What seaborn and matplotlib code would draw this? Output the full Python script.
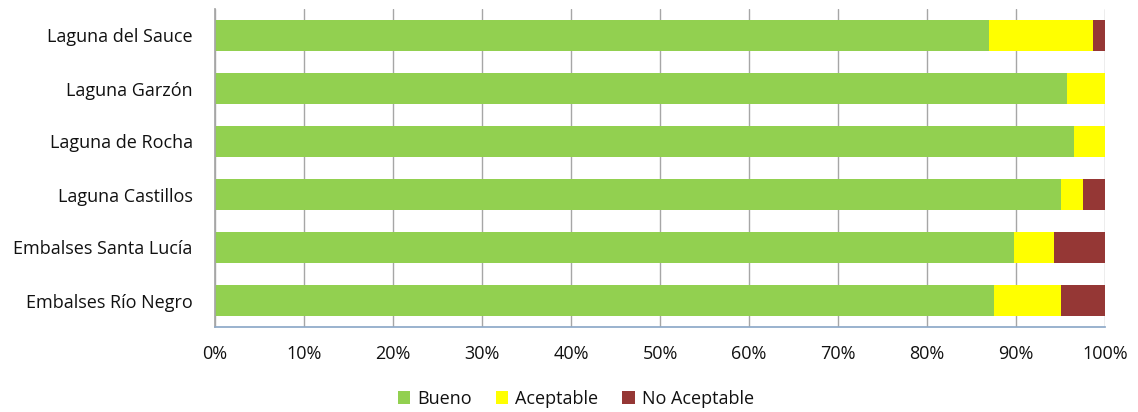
import matplotlib
matplotlib.use("Agg")
import matplotlib.pyplot as plt
import seaborn as sns
import pandas as pd
import numpy as np
from matplotlib.patches import Patch

categories = ["Laguna del Sauce", "Laguna Garzón", "Laguna de Rocha",
              "Laguna Castillos", "Embalses Santa Lucía", "Embalses Río Negro"]
bueno = [87.0, 95.7, 96.5, 95.1, 89.8, 87.5]
aceptable = [11.6, 4.3, 3.5, 2.4, 4.5, 7.5]
no_aceptable = [1.4, 0.0, 0.0, 2.5, 5.7, 5.0]
series_names = ["Bueno", "Aceptable", "No Aceptable"]
colors = ["#92D050", "#FFFF00", "#953735"]
xticks = [0, 10, 20, 30, 40, 50, 60, 70, 80, 90, 100]

sns.set_theme(style="white")
plt.rcParams['font.family'] = ['Open Sans', 'DejaVu Sans']

df = pd.DataFrame({"cat": categories, "b": bueno, "a": aceptable, "n": no_aceptable})
df["c1"] = df["b"]
df["c2"] = df["b"] + df["a"]
df["c3"] = df["b"] + df["a"] + df["n"]

fig = plt.figure(figsize=(11.38, 4.12), dpi=100)
ax = fig.add_axes([215/1138, 1 - 327/412, 890/1138, 318/412])

for col, c in zip(["c3", "c2", "c1"], colors[::-1]):
    sns.barplot(data=df, x=col, y="cat", color=c, orient="h", width=0.57,
                saturation=1, ax=ax, linewidth=0, order=categories)

fs = 13
ax.set_xlim(0, 100)
ax.set_xticks(xticks)
ax.set_xticklabels([f"{t}%" for t in xticks], fontsize=fs, color="#111111")
ax.tick_params(axis="y", labelsize=fs, colors="#111111", length=0, pad=16)
ax.tick_params(axis="x", length=0, pad=13)
ax.set_xlabel("")
ax.set_ylabel("")
ax.grid(axis="x", color="#A6A6A6", linewidth=1)
ax.set_axisbelow(True)
for s in ["top", "right"]:
    ax.spines[s].set_visible(False)
ax.spines["left"].set_color("#A6A6A6")
ax.spines["bottom"].set_color("#8EA9C8")
ax.set_ylim(5.5, -0.5)

handles = [Patch(facecolor=c, edgecolor="none") for c in colors]
fig.legend(handles, series_names, loc="center", bbox_to_anchor=(0.506, 1 - 399/412),
           ncol=3, frameon=False, fontsize=fs, handlelength=0.7, handleheight=0.7,
           columnspacing=1.3, handletextpad=0.4, labelcolor="#111111")

fig.savefig("out.png", dpi=100)
